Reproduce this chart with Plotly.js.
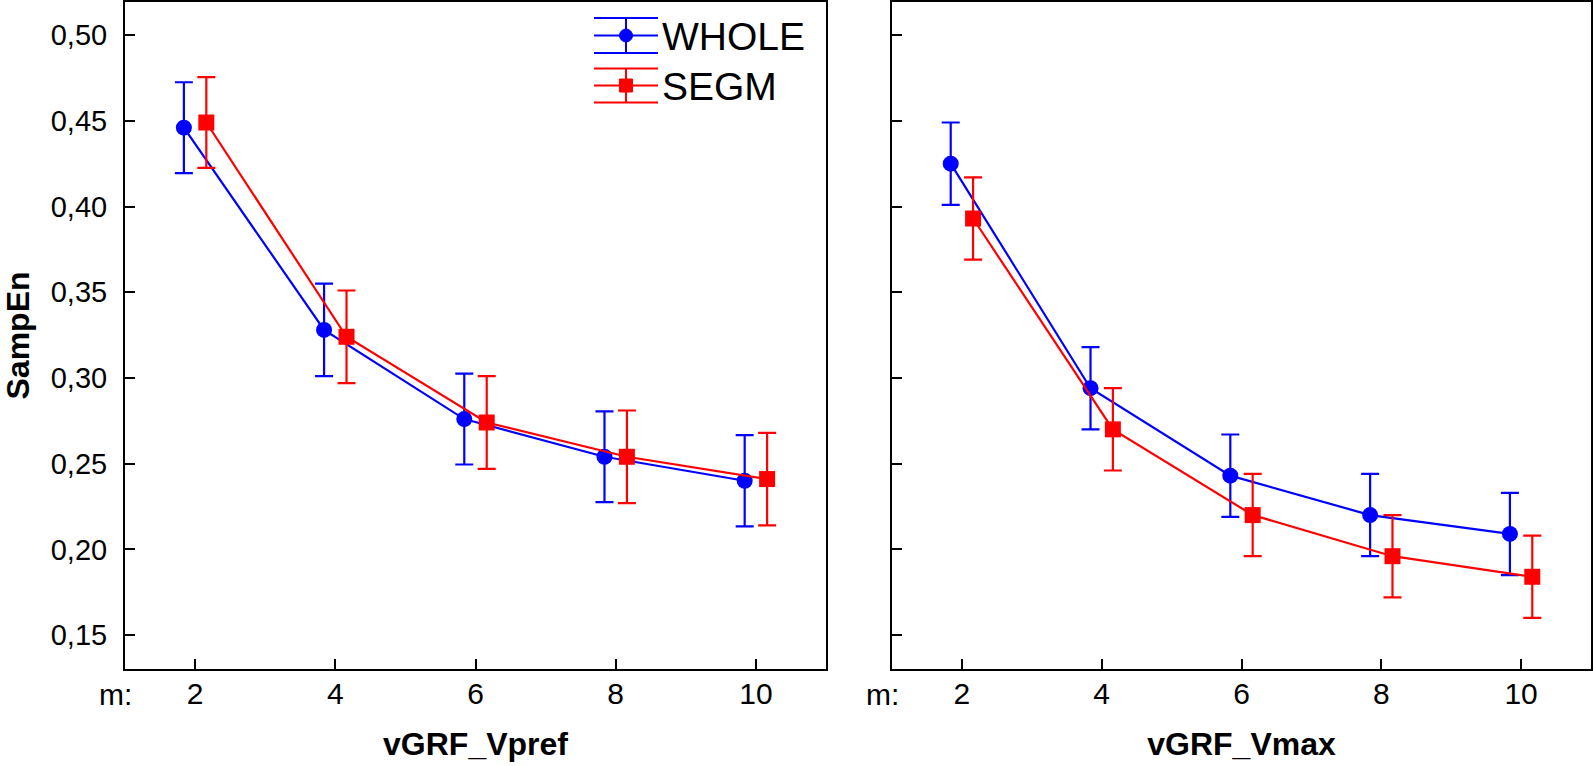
<!DOCTYPE html>
<html>
<head>
<meta charset="utf-8">
<script src="https://cdn.plot.ly/plotly-3.0.1.min.js"></script>
<style>html,body{margin:0;padding:0;background:#fff;}#chart{width:1593px;height:766px;}</style>
</head>
<body>
<div id="chart"></div>
<script>
// ---- data ----
const m = [2, 4, 6, 8, 10];
const mTickLabels = ["2", "4", "6", "8", "10"];
const seriesNames = ["WHOLE", "SEGM"];
const panelTitles = ["vGRF_Vpref", "vGRF_Vmax"];

const vprefWhole    = [0.446, 0.328, 0.276, 0.254, 0.240];
const vprefWholeErr = [0.0265, 0.027, 0.0265, 0.0265, 0.0266];
const vprefSegm     = [0.449, 0.324, 0.274, 0.254, 0.241];
const vprefSegmErr  = [0.0265, 0.027, 0.027, 0.027, 0.027];

const vmaxWhole     = [0.425, 0.294, 0.243, 0.220, 0.209];
const vmaxWholeErr  = [0.024, 0.024, 0.024, 0.024, 0.024];
const vmaxSegm      = [0.393, 0.270, 0.220, 0.196, 0.184];
const vmaxSegmErr   = [0.024, 0.024, 0.024, 0.024, 0.024];

// ---- styling ----
const BLUE = "#0000FF", RED = "#FF0000";
const FONT = "Liberation Sans, Arial, sans-serif";
const W = 1593, H = 766;
const dodge = 0.16;

function mk(xs, ys, err, color, symbol, xa, ya, off, name) {
  return {
    type: "scatter", mode: "lines+markers", name: name, showlegend: false,
    x: xs.map(v => v + off), y: ys, xaxis: xa, yaxis: ya,
    line: {color: color, width: 2.2},
    marker: {color: color, symbol: symbol, size: 16},
    error_y: {type: "data", array: err, visible: true, color: color, thickness: 2.2, width: 9}
  };
}

const traces = [
  mk(m, vprefWhole, vprefWholeErr, BLUE, "circle", "x", "y", -dodge, seriesNames[0]),
  mk(m, vprefSegm, vprefSegmErr, RED, "square", "x", "y", dodge, seriesNames[1]),
  mk(m, vmaxWhole, vmaxWholeErr, BLUE, "circle", "x2", "y2", -dodge, seriesNames[0]),
  mk(m, vmaxSegm, vmaxSegmErr, RED, "square", "x2", "y2", dodge, seriesNames[1])
];

const px = v => v / W, py = v => 1 - v / H;
const yRange = [0.1302, 0.5193];
const xRange = [1, 11];

function xaxis(domain, title) {
  return {
    domain: domain, range: xRange, tickvals: m, ticktext: mTickLabels,
    ticks: "inside", ticklen: 10, tickwidth: 2, tickcolor: "#000",
    showline: true, linecolor: "#000", linewidth: 2, mirror: true,
    showgrid: false, zeroline: false, ticklabelstandoff: -3,
    tickfont: {family: FONT, size: 30, color: "#000"},
    title: {text: title, font: {family: FONT, size: 32, color: "#000", weight: "bold"}, standoff: 24}
  };
}
function yaxis(domain, showLabels, title, anchor) {
  return {
    domain: domain, range: yRange, anchor: anchor,
    tickvals: [0.15, 0.20, 0.25, 0.30, 0.35, 0.40, 0.45, 0.50],
    tickformat: ".2f", showticklabels: showLabels,
    ticks: "inside", ticklen: 10, tickwidth: 2, tickcolor: "#000",
    showline: true, linecolor: "#000", linewidth: 2, mirror: true,
    showgrid: false, zeroline: false, ticklabelstandoff: 10,
    tickfont: {family: FONT, size: 29, color: "#000"},
    title: title ? {text: title, font: {family: FONT, size: 32, color: "#000", weight: "bold"}, standoff: 16} : {text: ""}
  };
}

const yDom = [1 - 669 / H, 1 - 2 / H];
const layout = {
  width: W, height: H, margin: {l: 0, r: 0, t: 0, b: 0},
  paper_bgcolor: "#fff", plot_bgcolor: "#fff",
  separators: ",.",
  showlegend: false,
  font: {family: FONT, color: "#000"},
  xaxis: xaxis([px(125), px(826)], panelTitles[0]),
  yaxis: yaxis(yDom, true, "SampEn", "x"),
  xaxis2: Object.assign(xaxis([px(892), px(1591)], panelTitles[1]), {anchor: "y2"}),
  yaxis2: yaxis(yDom, false, null, "x2"),
  annotations: [
    {xref: "paper", yref: "paper", x: px(134), y: py(694), xanchor: "right", yanchor: "middle",
     text: "m:", showarrow: false, font: {family: FONT, size: 30, color: "#000"}},
    {xref: "paper", yref: "paper", x: px(901), y: py(694), xanchor: "right", yanchor: "middle",
     text: "m:", showarrow: false, font: {family: FONT, size: 30, color: "#000"}},
    {xref: "paper", yref: "paper", x: px(660), y: py(37), xanchor: "left", yanchor: "middle",
     text: seriesNames[0], showarrow: false, font: {family: FONT, size: 39, color: "#000"}},
    {xref: "paper", yref: "paper", x: px(660), y: py(87), xanchor: "left", yanchor: "middle",
     text: seriesNames[1], showarrow: false, font: {family: FONT, size: 39, color: "#000"}}
  ],
  shapes: []
};
layout.xaxis.anchor = "y";

// legend symbols (error-bar glyphs)
function legendGlyph(cy, half, color, kind) {
  const x0 = px(594), x1 = px(658), xc = px(626);
  const s = [];
  [cy - half, cy, cy + half].forEach(yy => s.push({type: "line", xref: "paper", yref: "paper",
    x0: x0, x1: x1, y0: py(yy), y1: py(yy), line: {color: color, width: 2}}));
  s.push({type: "line", xref: "paper", yref: "paper", x0: xc, x1: xc, y0: py(cy - half), y1: py(cy + half),
    line: {color: color, width: 2}});
  const r = 6.5;
  s.push({type: kind, xref: "paper", yref: "paper", x0: px(626 - r), x1: px(626 + r),
    y0: py(cy - r), y1: py(cy + r), fillcolor: color, line: {color: color, width: 1}});
  return s;
}
layout.shapes = layout.shapes.concat(legendGlyph(35.5, 17.5, BLUE, "circle"), legendGlyph(85.5, 17, RED, "rect"));

Plotly.newPlot("chart", traces, layout, {displayModeBar: false, staticPlot: true});
</script>
</body>
</html>
